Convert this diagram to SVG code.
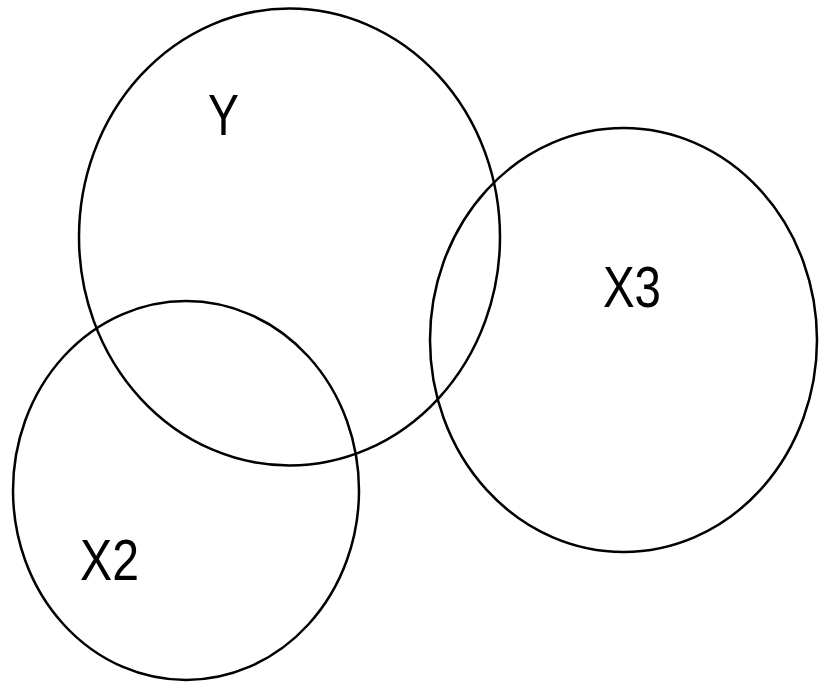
<svg xmlns="http://www.w3.org/2000/svg" width="819" height="683" viewBox="0 0 819 683">
<style>
.c{fill:none;stroke:#000;stroke-width:2.5}
.t{font-family:"Liberation Sans",Arial,sans-serif;font-size:58px;fill:#000}
</style>
<rect width="819" height="683" fill="#fff"/>
<g id="Y"><ellipse class="c" cx="289.5" cy="237" rx="210.5" ry="228.5"/><text class="t" x="208" y="135" textLength="31" lengthAdjust="spacingAndGlyphs">Y</text></g>
<g id="X3"><ellipse class="c" cx="623.5" cy="340" rx="193.5" ry="212"/><text class="t" x="603" y="307" textLength="58" lengthAdjust="spacingAndGlyphs">X3</text></g>
<g id="X2"><ellipse class="c" cx="186" cy="490.5" rx="173" ry="189.5"/><text class="t" x="80" y="580" textLength="59" lengthAdjust="spacingAndGlyphs">X2</text></g>
<g id="connectors"/>
</svg>
